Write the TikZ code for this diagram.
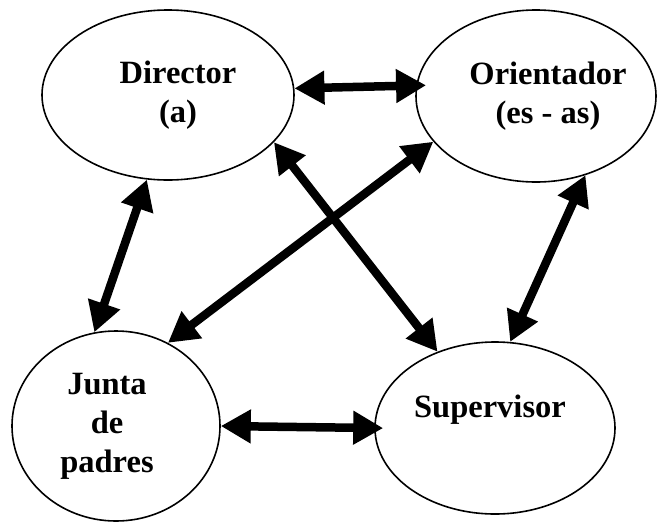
\documentclass[tikz,border=0pt]{standalone}
\usepackage{fontspec}
\setmainfont{Liberation Serif}
\usetikzlibrary{shapes.geometric,arrows.meta}
\begin{document}
\begin{tikzpicture}[x=1pt,y=-1pt,
  actor/.style={draw, line width=1.6pt, ellipse, inner sep=0pt},
  caption/.style={font=\fontsize{32.5}{39}\selectfont\bfseries, align=center, inner sep=0pt},
  link/.style={line width=8.5pt,
    {Triangle[length=30pt,width=32pt]}-{Triangle[length=30pt,width=32pt]}}]
\useasboundingbox (0,0) rectangle (658,523);

% the four members
\node[actor, minimum width=252pt, minimum height=170pt,
  label={[caption,xshift=10pt]center:Director\\(a)}] (dir) at (168,95) {};
\node[actor, minimum width=240pt, minimum height=172pt,
  label={[caption,xshift=12pt]center:Orientador\\(es - as)}] (ori) at (536,96) {};
\node[actor, minimum width=208pt, minimum height=190pt,
  label={[caption,xshift=-9pt]center:Junta\\de\\padres}] (jun) at (116,426) {};
\node[actor, minimum width=240pt, minimum height=172pt,
  label={[caption,xshift=-5pt,yshift=18pt]center:Supervisor}] (sup) at (495,428) {};

% two-way relations
\draw[link, shorten >=-10pt] (dir.3.7) -- (ori.175.3);
\draw[link] (dir.256) -- (jun.103.7);
\draw[link] (dir.-24.9) -- (sup.127.3);
\draw[link] (ori.204) -- (jun.58.5);
\draw[link] (ori.-58.3) -- (sup.80.1);
\draw[link, shorten >=-9pt] (jun.0) -- (sup.180);
\end{tikzpicture}
\end{document}
